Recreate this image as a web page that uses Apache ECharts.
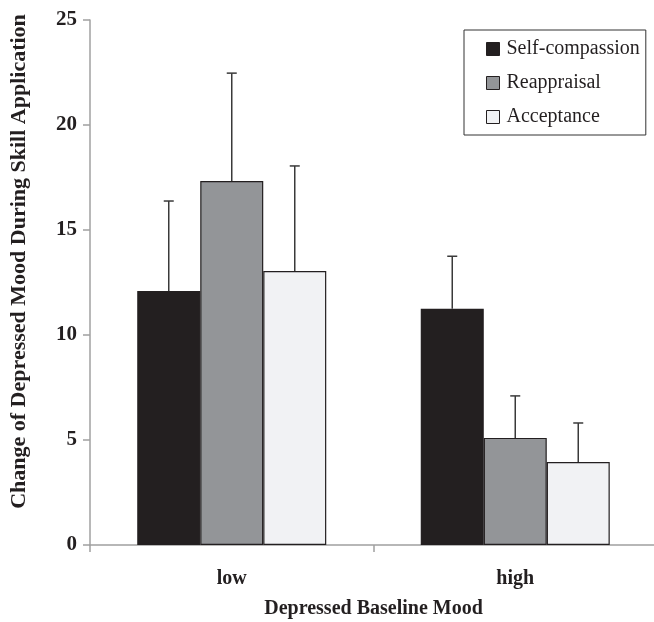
<!DOCTYPE html>
<html><head><meta charset="utf-8">
<script src="https://cdn.jsdelivr.net/npm/echarts@6/dist/echarts.min.js"></script>
<style>html,body{margin:0;padding:0;background:#fff}#c{width:654px;height:622px}</style>
</head><body><div id="c"></div>
<script>
var categories = ['low', 'high'];
var seriesNames = ['Self-compassion', 'Reappraisal', 'Acceptance'];
var selfCompassion = [12.1, 11.25];
var reappraisal = [17.33, 5.1];
var acceptance = [13.05, 3.95];
var selfCompassionErr = [4.28, 2.5];
var reappraisalErr = [5.14, 2.0];
var acceptanceErr = [5.0, 1.86];
var yTicks = [0, 5, 10, 15, 20, 25];

var values = [selfCompassion, reappraisal, acceptance];
var errs = [selfCompassionErr, reappraisalErr, acceptanceErr];
var colors = ['#231f20', '#939598', '#f1f2f4'];
var BW = 63;
var font = 'Liberation Serif';

var chart = echarts.init(document.getElementById('c'));
var series = [];
seriesNames.forEach(function (n, i) {
  series.push({
    name: n, type: 'bar', data: values[i], barWidth: BW, barGap: '0%',
    itemStyle: { color: colors[i], borderColor: '#231f20', borderWidth: 1.2 },
    z: 2
  });
});
seriesNames.forEach(function (n, i) {
  series.push({
    type: 'custom', name: n + ' err', z: 3, silent: true,
    data: values[i].map(function (v, k) { return [k, v, v + errs[i][k]]; }),
    renderItem: function (params, api) {
      var c = api.value(0);
      var p0 = api.coord([c, api.value(1)]);
      var p1 = api.coord([c, api.value(2)]);
      var x = p0[0] + (i - 1) * BW;
      var st = { stroke: '#3a3a3a', lineWidth: 1.5 };
      return { type: 'group', children: [
        { type: 'line', shape: { x1: x, y1: p0[1], x2: x, y2: p1[1] }, style: st },
        { type: 'line', shape: { x1: x - 5, y1: p1[1], x2: x + 5, y2: p1[1] }, style: st }
      ]};
    }
  });
});

chart.setOption({
  animation: false,
  backgroundColor: '#fff',
  textStyle: { fontFamily: font },
  grid: { left: 90, right: -3, top: 20, bottom: 77, outerBoundsMode: 'none', containLabel: false },
  legend: {
    data: seriesNames, orient: 'vertical', left: 464, top: 30,
    borderColor: '#333', borderWidth: 1, borderRadius: 0,
    padding: [9, 6, 8, 22], itemGap: 14, itemWidth: 13, itemHeight: 13,
    icon: 'rect',
    itemStyle: { borderColor: '#231f20', borderWidth: 1 },
    textStyle: { fontFamily: font, fontSize: 20, color: '#231f20', padding: [0, 0, 0, 2] }
  },
  xAxis: {
    type: 'category', data: categories,
    name: 'Depressed Baseline Mood', nameLocation: 'middle', nameGap: 54,
    nameTextStyle: { fontFamily: font, fontWeight: 'bold', fontSize: 20, color: '#231f20' },
    axisLine: { lineStyle: { color: '#a0a0a0', width: 1.5 } },
    axisTick: { show: true, length: 7, lineStyle: { color: '#a0a0a0', width: 1.5 } },
    axisLabel: { fontFamily: font, fontWeight: 'bold', fontSize: 20, color: '#231f20', margin: 24 }
  },
  yAxis: {
    type: 'value', min: 0, max: 25, interval: 5,
    name: 'Change of Depressed Mood During Skill Application', nameLocation: 'middle', nameGap: 60,
    nameTextStyle: { fontFamily: font, fontWeight: 'bold', fontSize: 22, color: '#231f20', padding: [0, 0, 0, 42] },
    axisLine: { show: true, lineStyle: { color: '#a0a0a0', width: 1.5 } },
    axisTick: { show: true, length: 7, lineStyle: { color: '#a0a0a0', width: 1.5 } },
    splitLine: { show: false },
    axisLabel: { fontFamily: font, fontWeight: 'bold', fontSize: 21, color: '#231f20', margin: 13,
      formatter: function (v) { return yTicks.indexOf(v) >= 0 ? String(v) : ''; } }
  },
  series: series
});
</script></body></html>
